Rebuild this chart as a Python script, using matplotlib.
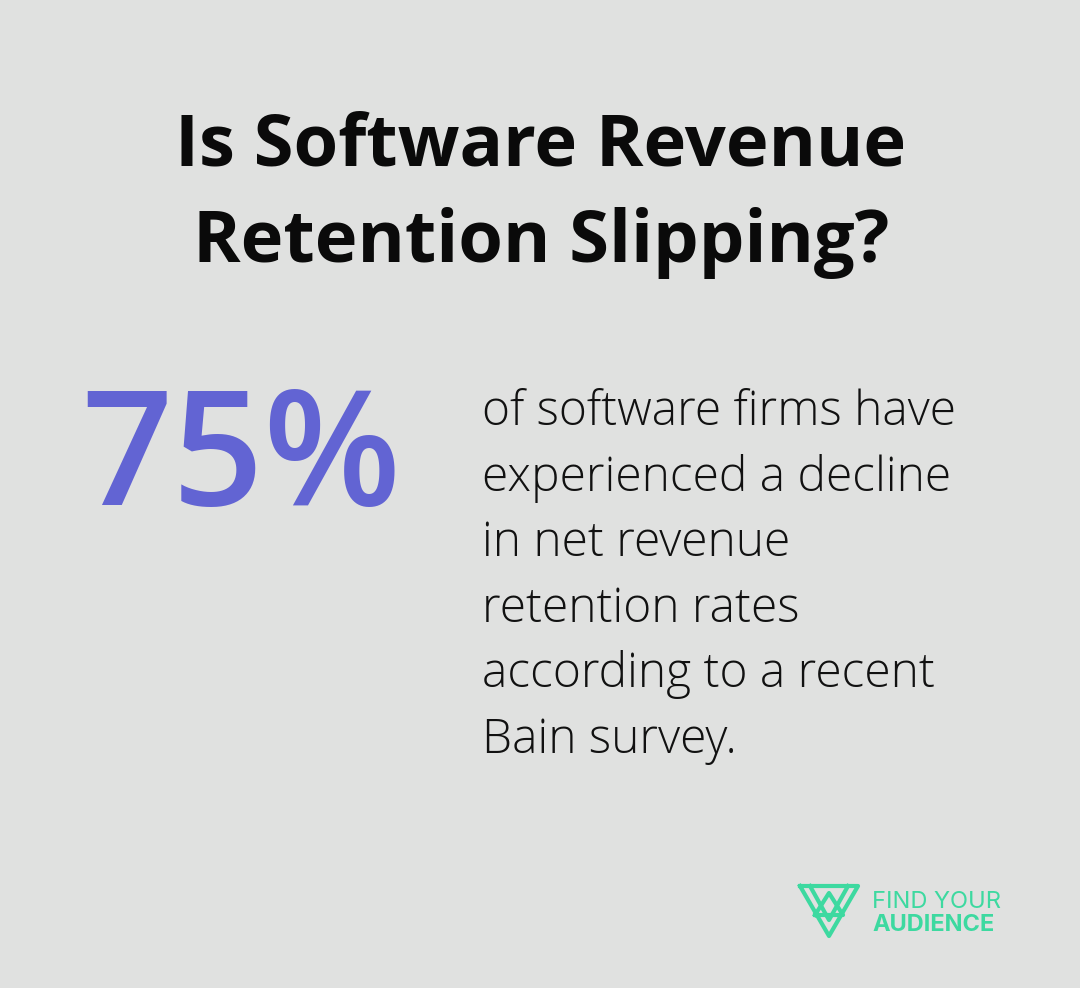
import matplotlib
matplotlib.use("Agg")
import matplotlib.pyplot as plt

title_lines = ["Is Software Revenue", "Retention Slipping?"]
stat_value = "75%"
body_lines = ["of software firms have", "experienced a decline", "in net revenue",
              "retention rates", "according to a recent", "Bain survey."]
brand_lines = ["FIND YOUR", "AUDIENCE"]

W, H = 1080, 988
fig = plt.figure(figsize=(10.8, 9.88), dpi=100, facecolor="#e0e1e0")
ax = fig.add_axes([0, 0, 1, 1])
ax.set_xlim(0, W); ax.set_ylim(H, 0); ax.axis("off")

for i, t in enumerate(title_lines):
    ax.text(541, 165 + i*97, t, ha="center", va="baseline", fontsize=52,
            fontweight="bold", family="Open Sans", color="#0a0a0a")
ax.text(241, 505, stat_value, ha="center", va="baseline", fontsize=115,
        family="Open Sans", fontweight="semibold", color="#6264d3")
for i, t in enumerate(body_lines):
    ax.text(482, 425 + i*65.5, t, ha="left", va="baseline", fontsize=34.5,
            family="Open Sans", fontweight="light", color="#111111")

g = "#3dd9a0"
ax.plot([800, 858, 829, 800], [886, 886, 936, 886], color=g, lw=3)
ax.plot([810, 829, 848], [886, 920, 886], color=g, lw=3)
ax.plot([815, 829, 843, 815], [915, 893, 915, 915], color=g, lw=3)
ax.text(872, 908, brand_lines[0], fontsize=17, family="Inter", color=g, va="baseline")
ax.text(872, 931, brand_lines[1], fontsize=17, family="Inter", fontweight="bold", color=g, va="baseline")

fig.savefig("out.png", dpi=100, facecolor=fig.get_facecolor())
